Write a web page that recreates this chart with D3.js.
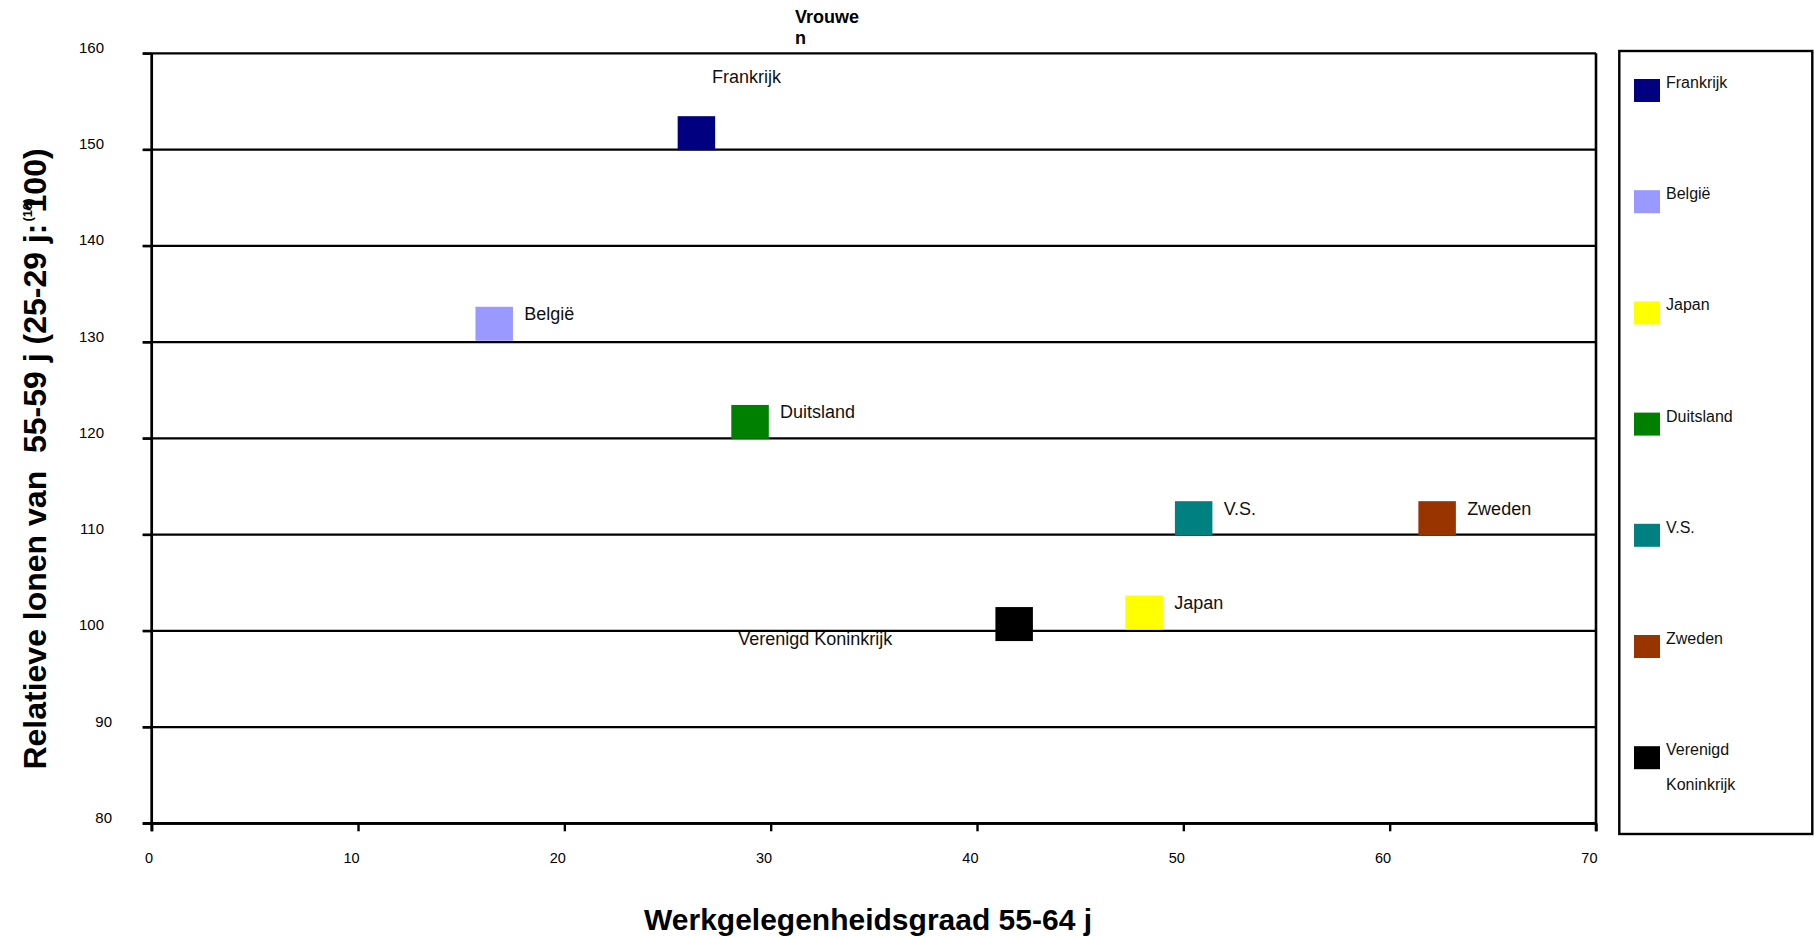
<!DOCTYPE html>
<html>
<head>
<meta charset="utf-8">
<script src="https://cdn.jsdelivr.net/npm/d3@7"></script>
<style>
  html, body { margin: 0; padding: 0; background: #fff; }
  svg { display: block; font-family: "Liberation Sans", Arial, Helvetica, sans-serif; }
</style>
</head>
<body>
<svg id="chart" width="1814" height="937"></svg>
<script>
// ---- data ----
const countries = ["Frankrijk", "België", "Japan", "Duitsland", "V.S.", "Zweden", "Verenigd Koninkrijk"];
const employmentRate = [26.4, 16.6, 48.1, 29.0, 50.5, 62.3, 41.8];   // Werkgelegenheidsgraad 55-64 j
const relativeWage   = [151.7, 131.9, 101.9, 121.7, 111.7, 111.7, 100.7]; // relatieve lonen 55-59 j
const colors = ["#000080", "#9999FF", "#FFFF00", "#008000", "#008080", "#993300", "#000000"];
const legendLines = [["Frankrijk"], ["België"], ["Japan"], ["Duitsland"], ["V.S."], ["Zweden"], ["Verenigd", "Koninkrijk"]];
const xTicks = [0, 10, 20, 30, 40, 50, 60, 70];
const yTicks = [80, 90, 100, 110, 120, 130, 140, 150, 160];
const titleLines = ["Vrouwe", "n"];
const xTitle = "Werkgelegenheidsgraad 55-64 j";

// ---- layout ----
const svg = d3.select("#chart");
const L = 151.7, R = 1596, T = 53.3, B = 823.3;
const x = d3.scaleLinear().domain([0, 70]).range([L, R]);
const y = d3.scaleLinear().domain([80, 160]).range([B, T]);

// label placement (offsets from point centre, px)
const labelPlace = {
  "Frankrijk": { dx: 15.5, dy: -50, anchor: "start" },
  "Verenigd Koninkrijk": { dx: -276, dy: 21, anchor: "start" }
};
const defaultPlace = { dx: 30, dy: -3.5, anchor: "start" };

// gridlines
svg.append("g").selectAll("line").data(yTicks).join("line")
  .attr("x1", L - 9).attr("x2", R)
  .attr("y1", d => y(d)).attr("y2", d => y(d))
  .attr("stroke", "#000").attr("stroke-width", d => d === 80 ? 2.8 : 2.2);

// y axis
const yAxis = svg.append("g").attr("transform", `translate(${L},0)`)
  .call(d3.axisLeft(y).tickValues(yTicks).tickSize(9).tickFormat(d3.format("d")));
yAxis.select(".domain").attr("stroke-width", 2.7).attr("d", `M0,${T}V${B + 8}`);
yAxis.selectAll(".tick line").attr("stroke-width", 2.2);
yAxis.selectAll(".tick text")
  .attr("font-size", 15).attr("font-family", "Liberation Sans, Arial, sans-serif")
  .attr("fill", "#000")
  .attr("text-anchor", "end")
  .attr("x", d => d >= 100 ? 104 - L : 112 - L)
  .attr("dy", null).attr("y", -1);

// right border
svg.append("line").attr("x1", R).attr("x2", R).attr("y1", T).attr("y2", B + 8)
  .attr("stroke", "#000").attr("stroke-width", 2.6);

// x axis
const xAxis = svg.append("g").attr("transform", `translate(0,${B})`)
  .call(d3.axisBottom(x).tickValues(xTicks).tickSize(8).tickFormat(d3.format("d")));
xAxis.select(".domain").attr("stroke-width", 2.8).attr("d", `M${L},0H${R}`);
xAxis.selectAll(".tick line").attr("stroke-width", 2.4);
xAxis.selectAll(".tick text")
  .attr("font-size", 14.5).attr("font-family", "Liberation Sans, Arial, sans-serif")
  .attr("fill", "#000")
  .attr("text-anchor", "end").attr("x", 1)
  .attr("dy", null).attr("y", 40);

// markers
const pts = countries.map((c, i) => ({ c, xv: employmentRate[i], yv: relativeWage[i], col: colors[i] }));
const sqW = 37.5, sqH = 34;
svg.append("g").selectAll("rect").data(pts).join("rect")
  .attr("x", d => x(d.xv) - sqW / 2).attr("y", d => y(d.yv) - sqH / 2)
  .attr("width", sqW).attr("height", sqH).attr("fill", d => d.col);

// point labels
svg.append("g").selectAll("text").data(pts).join("text")
  .attr("x", d => x(d.xv) + (labelPlace[d.c] || defaultPlace).dx)
  .attr("y", d => y(d.yv) + (labelPlace[d.c] || defaultPlace).dy)
  .attr("text-anchor", d => (labelPlace[d.c] || defaultPlace).anchor)
  .attr("font-size", 18).attr("fill", "#111")
  .text(d => d.c);

// title
svg.append("text").attr("x", 795).attr("y", 23)
  .attr("font-size", 18).attr("font-weight", "bold")
  .selectAll("tspan").data(titleLines).join("tspan")
  .attr("x", 795).attr("dy", (d, i) => i === 0 ? 0 : 21).text(d => d);

// x title
svg.append("text").attr("x", 868).attr("y", 930)
  .attr("text-anchor", "middle").attr("font-size", 30).attr("font-weight", "bold")
  .text(xTitle);

// y title
const yt = svg.append("text")
  .attr("transform", "translate(46,459) rotate(-90)")
  .attr("text-anchor", "middle").attr("font-size", 32).attr("font-weight", "bold")
  .attr("xml:space", "preserve");
yt.append("tspan").text("Relatieve lonen van  55-59 j (25-29 j:");
yt.append("tspan").attr("font-size", 13).attr("dy", -14).attr("dx", 2).text("(10)");
yt.append("tspan").attr("dy", 14).attr("dx", -14).text("100)");

// legend
const lg = svg.append("g");
lg.append("rect").attr("x", 1619.3).attr("y", 51).attr("width", 193).attr("height", 783)
  .attr("fill", "none").attr("stroke", "#000").attr("stroke-width", 2.4);
const rows = lg.selectAll("g.row").data(countries.map((c, i) => ({ lines: legendLines[i], col: colors[i], i })))
  .join("g").attr("class", "row")
  .attr("transform", d => `translate(0,${79 + d.i * 111.2})`);
rows.append("rect").attr("x", 1634).attr("y", 0).attr("width", 26).attr("height", 23)
  .attr("fill", d => d.col);
rows.append("text").attr("font-size", 16).attr("fill", "#111")
  .selectAll("tspan").data(d => d.lines).join("tspan")
  .attr("x", 1666).attr("y", (d, i) => 9 + i * 35).text(d => d);
</script>
</body>
</html>
